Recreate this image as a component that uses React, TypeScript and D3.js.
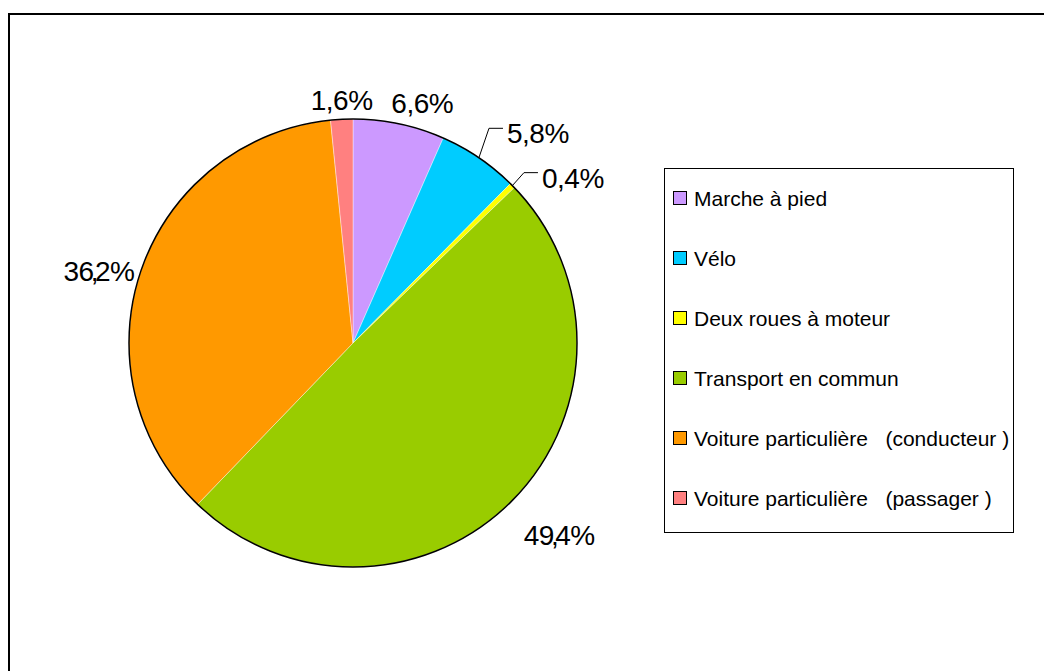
import React from "react";
import * as d3 from "d3";

const categories = [
  "Marche à pied",
  "Vélo",
  "Deux roues à moteur",
  "Transport en commun",
  "Voiture particulière   (conducteur )",
  "Voiture particulière   (passager )",
];
const values = [6.6, 5.8, 0.4, 49.4, 36.2, 1.6];
const labels = ["6,6%", "5,8%", "0,4%", "49,4%", "36,2%", "1,6%"];
const colors = ["#CC99FF", "#00CCFF", "#FFFF00", "#99CC00", "#FF9900", "#FF8080"];

// layout: label placement (angle shift in degrees, radius) relative to slice mid-angle
const labelLayout = [
  { dAng: 4.2, r: 250, leader: false },
  { dAng: 6.6, r: 277, leader: true },
  { dAng: 7.2, r: 272, leader: true },
  { dAng: -2.0, r: 282, leader: false },
  { dAng: -3.3, r: 264, leader: false },
  { dAng: 0.2, r: 243, leader: false },
];

const W = 1044;
const H = 671;
const cx = 353;
const cy = 343;
const R = 224;

export default function App() {
  const pie = d3.pie<number>().sort(null).value((d) => d)(values);
  const arc = d3.arc<d3.PieArcDatum<number>>().innerRadius(0).outerRadius(R);
  const rowY = d3.scaleLinear().domain([0, 5]).range([198, 498]);

  const polar = (ang: number, r: number) => [Math.sin(ang) * r, -Math.cos(ang) * r];

  return (
    <svg
      width={W}
      height={H}
      style={{ position: "absolute", left: 0, top: 0, background: "#fff" }}
      fontFamily="'Liberation Sans', Arial, sans-serif"
    >
      <rect x={0} y={0} width={W} height={H} fill="#fff" />
      <rect x={9} y={14} width={1100} height={800} fill="none" stroke="#000" strokeWidth={2} />
      <g transform={`translate(${cx},${cy})`}>
        {pie.map((p, i) => (
          <path key={i} d={arc(p) || ""} fill={colors[i]} stroke="#fff" strokeWidth={0.4} />
        ))}
        <circle r={R} fill="none" stroke="#000" strokeWidth={1.5} />
        {pie.map((p, i) => {
          const mid = (p.startAngle + p.endAngle) / 2;
          const L = labelLayout[i];
          const [lx, ly] = polar(mid + (L.dAng * Math.PI) / 180, L.r);
          const fs = 28;
          let content: React.ReactNode = labels[i];
          if (labels[i] === "36,2%" || labels[i] === "49,4%") {
            const [a, b] = labels[i].split(",");
            content = (
              <>
                <tspan>{a}</tspan>
                <tspan dx={-3}>,</tspan>
                <tspan dx={-3}>{b}</tspan>
              </>
            );
          }
          let leader = null;
          let anchor: "middle" | "start" = "middle";
          let tx = lx;
          if (L.leader) {
            const [ax, ay] = polar(mid, R);
            tx = lx - 27;
            const ex = tx - 4;
            const ey = ly - 5;
            leader = (
              <polyline
                points={`${ax},${ay} ${ex - 14},${ey} ${ex},${ey}`}
                fill="none"
                stroke="#000"
                strokeWidth={1}
              />
            );
            anchor = "start";
          }
          return (
            <g key={"l" + i}>
              {leader}
              <text
                x={tx}
                y={ly + 10}
                fontSize={fs}
                textAnchor={anchor}
                fill="#000"
                letterSpacing={-0.5}
              >
                {content}
              </text>
            </g>
          );
        })}
      </g>
      <rect x={664.5} y={168.5} width={349} height={364} fill="#fff" stroke="#000" strokeWidth={1} />
      {categories.map((c, i) => (
        <g key={"lg" + i}>
          <rect
            x={673.5}
            y={rowY(i) - 6.5}
            width={13}
            height={13}
            fill={colors[i]}
            stroke="#000"
            strokeWidth={1}
          />
          <text x={694} y={rowY(i) + 7.5} fontSize={21} fill="#000" style={{ whiteSpace: "pre" }}>
            {c}
          </text>
        </g>
      ))}
    </svg>
  );
}
